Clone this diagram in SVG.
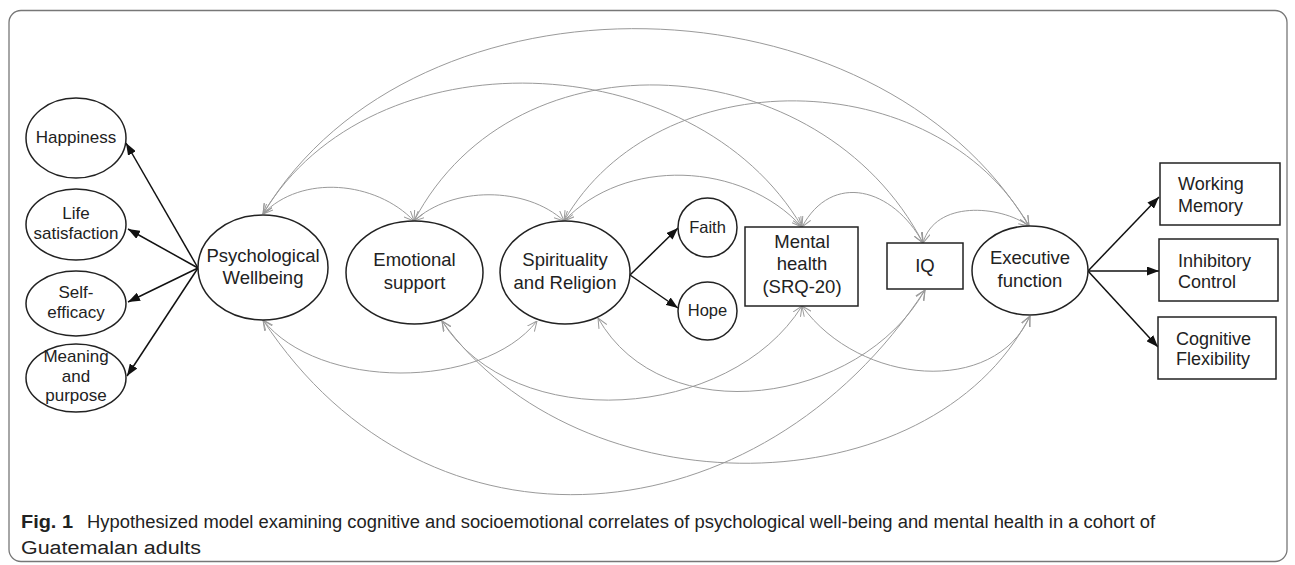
<svg xmlns="http://www.w3.org/2000/svg" width="1295" height="565" viewBox="0 0 1295 565">
<style>
.node{fill:#fff;stroke:#222;stroke-width:1.5}
.t{font-family:"Liberation Sans",Arial,sans-serif;fill:#222;text-anchor:middle}
.tl{font-family:"Liberation Sans",Arial,sans-serif;fill:#222;text-anchor:start;font-size:18px}
.big{font-size:18.5px}
.sm{font-size:17px}
.xs{font-size:16.5px}
.cor{fill:none;stroke:#9a9a9a;stroke-width:1;marker-start:url(#oa);marker-end:url(#oa)}
.load{fill:none;stroke:#111;stroke-width:1.5;marker-end:url(#ba)}
.cap{font-family:"Liberation Sans",Arial,sans-serif;font-size:18px;fill:#222}
</style>
<defs>
<marker id="oa" viewBox="0 0 10 10" refX="10" refY="5" markerWidth="10" markerHeight="10" markerUnits="userSpaceOnUse" orient="auto-start-reverse">
<path d="M0,0.5 L10,5 L0,9.5" fill="none" stroke="#9a9a9a" stroke-width="1"/>
</marker>
<marker id="ba" viewBox="0 0 12 9" refX="12" refY="4.5" markerWidth="12" markerHeight="9" markerUnits="userSpaceOnUse" orient="auto">
<path d="M0,0 L12,4.5 L0,9 z" fill="#111"/>
</marker>
</defs>
<rect x="0" y="0" width="1295" height="565" fill="#fff"/>
<rect x="9" y="10.5" width="1278" height="551" rx="12" ry="12" fill="none" stroke="#777" stroke-width="1.3"/>

<g id="connectors">
<path class="cor" d="M263,214 C416,-41 876,-29 1029,226"/>
<path class="cor" d="M263,214 C371,32 694,43 802,227"/>
<path class="cor" d="M414,221 C516,26 821,47 923,243"/>
<path class="cor" d="M564,221 C657,58 936,62 1029,226"/>
<path class="cor" d="M263,214 C301,174 376,181 414,221"/>
<path class="cor" d="M414,221 C452,186 526,186 564,221"/>
<path class="cor" d="M564,221 C624,157 742,161 802,227"/>
<path class="cor" d="M802,227 C832,171 893,188 923,243"/>
<path class="cor" d="M923,243 C935,200 1000,205 1029,226"/>
<path class="cor" d="M263,320 C318,390 482,391 537,321"/>
<path class="cor" d="M263,320 C428,572 760,542 925,290"/>
<path class="cor" d="M442,321 C514,436 730,421 802,306"/>
<path class="cor" d="M442,321 C580,514 930,509 1030,316"/>
<path class="cor" d="M598,318 C663,433 860,405 925,290"/>
<path class="cor" d="M802,306 C860,386 995,396 1030,316"/>
<line class="load" x1="198" y1="268" x2="126" y2="143"/>
<line class="load" x1="198" y1="268" x2="128" y2="229"/>
<line class="load" x1="198" y1="268" x2="128" y2="302"/>
<line class="load" x1="198" y1="268" x2="127" y2="376"/>
<line class="load" x1="630" y1="275" x2="678" y2="228"/>
<line class="load" x1="630" y1="275" x2="678" y2="308"/>
<line class="load" x1="1088" y1="271" x2="1159" y2="197"/>
<line class="load" x1="1088" y1="271" x2="1159" y2="271"/>
<line class="load" x1="1088" y1="271" x2="1158" y2="347"/>
</g>

<g id="happiness"><ellipse class="node" cx="76" cy="138" rx="50" ry="40"/><text class="t sm" x="76" y="143">Happiness</text></g>
<g id="life-satisfaction"><ellipse class="node" cx="76" cy="224.5" rx="50" ry="35.5"/><text class="t sm" x="76" y="219">Life</text><text class="t sm" x="76" y="239">satisfaction</text></g>
<g id="self-efficacy"><ellipse class="node" cx="76" cy="303.5" rx="50" ry="32.5"/><text class="t sm" x="76" y="298">Self-</text><text class="t sm" x="76" y="318">efficacy</text></g>
<g id="meaning-purpose"><ellipse class="node" cx="76" cy="378" rx="50" ry="34"/><text class="t sm" x="76" y="361.5">Meaning</text><text class="t sm" x="76" y="381.5">and</text><text class="t sm" x="76" y="401">purpose</text></g>

<g id="psychological-wellbeing"><ellipse class="node" cx="263" cy="267.5" rx="65" ry="52.5"/><text class="t big" x="263" y="262">Psychological</text><text class="t big" x="263" y="283.5">Wellbeing</text></g>
<g id="emotional-support"><ellipse class="node" cx="414.5" cy="272.5" rx="68.5" ry="51.5"/><text class="t big" x="414.5" y="266">Emotional</text><text class="t big" x="414.5" y="288.5">support</text></g>
<g id="spirituality-religion"><ellipse class="node" cx="565" cy="272.5" rx="65" ry="51.5"/><text class="t big" x="565" y="266">Spirituality</text><text class="t big" x="565" y="288.5">and Religion</text></g>
<g id="faith"><ellipse class="node" cx="707.5" cy="227.5" rx="29.5" ry="29.5"/><text class="t xs" x="707.5" y="233">Faith</text></g>
<g id="hope"><ellipse class="node" cx="707.5" cy="311" rx="29.5" ry="29"/><text class="t xs" x="707.5" y="316">Hope</text></g>
<g id="mental-health"><rect class="node" x="745" y="227" width="113" height="79"/><text class="t big" x="802" y="247.5">Mental</text><text class="t big" x="802" y="270">health</text><text class="t big" x="802" y="293">(SRQ-20)</text></g>
<g id="iq"><rect class="node" x="887" y="243" width="76" height="46"/><text class="t big" x="925" y="272">IQ</text></g>
<g id="executive-function"><ellipse class="node" cx="1030" cy="270.5" rx="58" ry="44.5"/><text class="t big" x="1030" y="263.5">Executive</text><text class="t big" x="1030" y="286.5">function</text></g>
<g id="working-memory"><rect class="node" x="1160" y="163" width="120" height="62"/><text class="tl" x="1178" y="189.5">Working</text><text class="tl" x="1178" y="212">Memory</text></g>
<g id="inhibitory-control"><rect class="node" x="1159" y="239" width="119" height="62"/><text class="tl" x="1178" y="267">Inhibitory</text><text class="tl" x="1178" y="287.5">Control</text></g>
<g id="cognitive-flexibility"><rect class="node" x="1158" y="317" width="118" height="62"/><text class="tl" x="1176" y="344.5">Cognitive</text><text class="tl" x="1176" y="365">Flexibility</text></g>

<g id="caption">
<text class="cap" x="21" y="527.5" font-weight="bold" textLength="52" lengthAdjust="spacingAndGlyphs">Fig. 1</text>
<text class="cap" x="87" y="527.5" textLength="1068" lengthAdjust="spacingAndGlyphs">Hypothesized model examining cognitive and socioemotional correlates of psychological well-being and mental health in a cohort of</text>
<text class="cap" x="21" y="554" textLength="180" lengthAdjust="spacingAndGlyphs">Guatemalan adults</text>
</g>
</svg>
